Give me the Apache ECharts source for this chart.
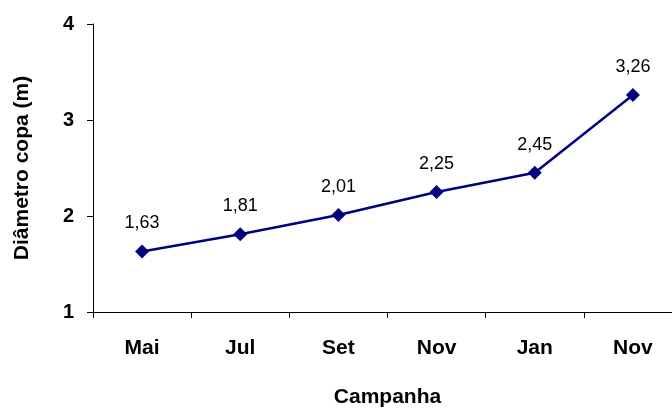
<!DOCTYPE html>
<html>
<head>
<meta charset="utf-8">
<script src="https://cdn.jsdelivr.net/npm/echarts@6/dist/echarts.min.js"></script>
<style>
  html, body { margin: 0; padding: 0; background: #fff; overflow: hidden; }
  #chart { width: 700px; height: 408px; }
</style>
</head>
<body>
<div id="chart"></div>
<script>
var campanhas = ['Mai', 'Jul', 'Set', 'Nov', 'Jan', 'Nov'];
var diametro = [1.63, 1.81, 2.01, 2.25, 2.45, 3.26];
var yTicks = [1, 2, 3, 4];

var myChart = echarts.init(document.getElementById('chart'));

var option = {
  animation: false,
  grid: { left: 93, top: 24, width: 589, height: 288, outerBoundsMode: 'none' },
  xAxis: {
    type: 'category',
    data: campanhas,
    boundaryGap: true,
    name: 'Campanha',
    nameLocation: 'middle',
    nameGap: 75,
    nameTextStyle: { fontFamily: 'Liberation Sans', fontWeight: 'bold', fontSize: 21, color: '#000' },
    axisLine: { lineStyle: { color: '#000', width: 1 } },
    axisTick: { show: true, length: 6, lineStyle: { color: '#000' } },
    axisLabel: { margin: 26, fontFamily: 'Liberation Sans', fontWeight: 'bold', fontSize: 21, color: '#000' }
  },
  yAxis: {
    type: 'value',
    min: yTicks[0],
    max: yTicks[yTicks.length - 1],
    interval: 1,
    name: 'Diâmetro copa (m)',
    nameLocation: 'middle',
    nameGap: 60,
    nameTextStyle: { fontFamily: 'Liberation Sans', fontWeight: 'bold', fontSize: 21, color: '#000' },
    axisLine: { show: true, lineStyle: { color: '#000', width: 1 } },
    axisTick: { show: true, length: 6, lineStyle: { color: '#000' } },
    splitLine: { show: false },
    axisLabel: { margin: 19, fontFamily: 'Liberation Sans', fontWeight: 'bold', fontSize: 20, color: '#000' }
  },
  series: [
    {
      type: 'line',
      data: diametro,
      symbol: 'diamond',
      symbolSize: 14,
      lineStyle: { color: '#000080', width: 2.5 },
      itemStyle: { color: '#000080' },
      label: {
        show: true,
        position: 'top',
        distance: 12,
        fontFamily: 'Liberation Sans',
        fontSize: 18,
        color: '#000',
        formatter: function (p) { return p.value.toFixed(2).replace('.', ','); }
      }
    }
  ]
};

myChart.setOption(option);
</script>
</body>
</html>
